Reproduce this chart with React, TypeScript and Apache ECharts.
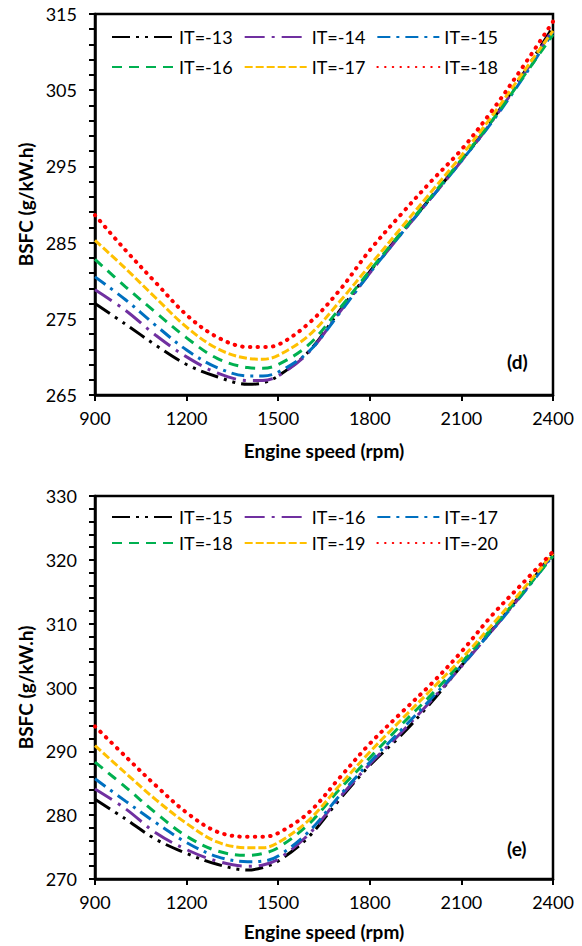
import React, { useEffect, useRef } from "react";
import * as echarts from "echarts";

const RPM = [900, 1000, 1100, 1200, 1300, 1400, 1450, 1500, 1600, 1700, 1800, 1900, 2000, 2100, 2200, 2300, 2400];
const X_TICKS = [900, 1200, 1500, 1800, 2100, 2400];

// Panel (d)
const D_NAMES = ["IT=-13", "IT=-14", "IT=-15", "IT=-16", "IT=-17", "IT=-18"];
const D_IT13 = [277.0, 274.3, 271.5, 269.0, 267.4, 266.4, 266.6, 267.5, 270.7, 276.0, 281.2, 286.1, 290.9, 295.8, 301.0, 307.0, 313.3];
const D_IT14 = [278.8, 276.1, 272.8, 270.0, 267.9, 266.9, 266.9, 267.5, 270.6, 275.8, 281.0, 286.0, 290.8, 295.7, 300.9, 306.8, 313.0];
const D_IT15 = [280.5, 277.5, 274.1, 270.9, 268.6, 267.5, 267.5, 268.0, 270.7, 275.7, 281.0, 286.0, 290.8, 295.7, 300.8, 306.5, 312.6];
const D_IT16 = [282.8, 279.2, 275.8, 272.5, 269.8, 268.6, 268.5, 269.0, 271.6, 276.3, 281.3, 286.2, 291.0, 295.9, 301.0, 306.6, 312.3];
const D_IT17 = [285.3, 281.6, 277.7, 273.9, 271.1, 269.8, 269.7, 270.2, 272.8, 277.2, 282.0, 286.8, 291.6, 296.4, 301.6, 307.2, 312.8];
const D_IT18 = [288.6, 284.0, 279.7, 275.5, 272.6, 271.3, 271.3, 271.6, 274.4, 278.7, 284.0, 288.6, 293.0, 297.2, 302.3, 308.0, 314.0];
const D_Y_TICKS = [265, 275, 285, 295, 305, 315];

// Panel (e)
const E_NAMES = ["IT=-15", "IT=-16", "IT=-17", "IT=-18", "IT=-19", "IT=-20"];
const E_IT15 = [282.5, 279.4, 276.2, 274.0, 272.3, 271.4, 271.8, 272.8, 276.6, 282.4, 287.8, 292.4, 297.6, 303.4, 309.0, 314.9, 321.1];
const E_IT16 = [284.1, 281.0, 277.2, 274.6, 272.8, 272.0, 272.2, 273.1, 277.0, 282.7, 288.0, 292.8, 297.9, 303.3, 308.9, 314.7, 320.9];
const E_IT17 = [285.7, 282.2, 278.8, 275.7, 273.5, 272.7, 272.8, 273.6, 277.4, 283.0, 288.3, 293.2, 298.2, 303.4, 308.9, 314.6, 320.7];
const E_IT18 = [288.3, 284.4, 280.3, 276.7, 274.4, 273.7, 274.0, 274.9, 278.6, 284.0, 289.0, 294.0, 298.8, 303.9, 309.3, 314.8, 320.6];
const E_IT19 = [290.9, 286.6, 282.4, 278.7, 275.8, 274.9, 274.9, 275.7, 279.2, 284.6, 289.9, 294.8, 299.6, 304.5, 309.8, 315.3, 321.0];
const E_IT20 = [293.9, 289.2, 284.6, 280.4, 277.4, 276.6, 276.6, 277.2, 280.4, 285.8, 291.2, 295.9, 300.5, 305.6, 311.3, 316.3, 321.3];
const E_Y_TICKS = [270, 280, 290, 300, 310, 320, 330];

const STYLES = [
  { color: "#000000", type: [18, 6, 3, 6, 3, 6], cap: "butt", width: 3 },
  { color: "#7030A0", type: [20, 7, 3, 7], cap: "butt", width: 3 },
  { color: "#0070C0", type: [13, 6, 3, 6], cap: "butt", width: 3 },
  { color: "#00B050", type: [10, 7], cap: "butt", width: 3 },
  { color: "#FFC000", type: [8, 3], cap: "butt", width: 3 },
  { color: "#FF0000", type: [0.5, 7.2], cap: "round", width: 4 },
];

const FONT = "Lato, 'Open Sans', sans-serif";

function buildOption(cfg: any) {
  const series = cfg.names.map((n: string, i: number) => ({
    name: n,
    type: "line",
    data: RPM.map((x, k) => [x, cfg.data[i][k]]),
    smooth: 0.35,
    symbol: "none",
    showSymbol: false,
    lineStyle: { color: STYLES[i].color, width: STYLES[i].width, type: STYLES[i].type, cap: STYLES[i].cap },
    itemStyle: { color: STYLES[i].color },
    z: 2 + i,
  }));
  const legendCommon = {
    left: 111,
    orient: "horizontal",
    itemWidth: 62,
    itemHeight: 18,
    itemGap: 11,
    padding: 0,
    itemStyle: { opacity: 0, borderWidth: 0 },
    textStyle: { fontSize: 18, color: "#000", fontFamily: FONT },
  };
  const yt = cfg.yTicks;
  return {
    animation: false,
    textStyle: { fontFamily: FONT },
    grid: {
      left: 95,
      width: 458,
      top: cfg.gridTop,
      height: cfg.gridHeight,
      show: true,
      borderColor: "#000",
      borderWidth: 2.5,
      backgroundColor: "transparent",
    },
    legend: [
      { ...legendCommon, top: cfg.legendTops[0], data: cfg.names.slice(0, 3) },
      { ...legendCommon, top: cfg.legendTops[1], data: cfg.names.slice(3, 6) },
    ],
    xAxis: {
      type: "value",
      min: X_TICKS[0],
      max: X_TICKS[X_TICKS.length - 1],
      interval: X_TICKS[1] - X_TICKS[0],
      name: "Engine speed (rpm)",
      nameLocation: "middle",
      nameGap: cfg.xNameGap,
      nameTextStyle: { fontSize: 19, fontWeight: "bold", color: "#000", fontFamily: FONT },
      axisLine: { lineStyle: { color: "#000", width: 2.5 } },
      axisTick: { show: true, inside: false, length: 6, lineStyle: { color: "#000", width: 2 } },
      axisLabel: { fontSize: 18, color: "#000", margin: 14, fontFamily: FONT, formatter: (v: number) => String(v) },
      splitLine: { show: false },
    },
    yAxis: {
      type: "value",
      min: yt[0],
      max: yt[yt.length - 1],
      interval: yt[1] - yt[0],
      name: "BSFC (g/kW.h)",
      nameLocation: "middle",
      nameGap: 56,
      nameTextStyle: { fontSize: 19, fontWeight: "bold", color: "#000", fontFamily: FONT },
      axisLine: { show: true, lineStyle: { color: "#000", width: 2.5 } },
      axisTick: { show: true, inside: false, length: 6, lineStyle: { color: "#000", width: 2 } },
      minorTick: { show: true, splitNumber: 5, length: 6, lineStyle: { color: "#000", width: 2 } },
      axisLabel: { fontSize: 18, color: "#000", margin: 18, fontFamily: FONT, formatter: (v: number) => String(v) },
      splitLine: { show: false },
      minorSplitLine: { show: false },
    },
    graphic: [
      {
        type: "text",
        left: 507,
        top: cfg.tagTop,
        style: { text: cfg.tag, font: `bold 19px ${FONT}`, fill: "#000" },
      },
    ],
    series,
  };
}

function Chart(props: { cfg: any; height: number }) {
  const ref = useRef<HTMLDivElement>(null);
  useEffect(() => {
    if (!ref.current) return;
    const chart = echarts.init(ref.current, undefined, { renderer: "svg" });
    chart.setOption(buildOption(props.cfg));
    return () => chart.dispose();
  }, []);
  return <div ref={ref} style={{ width: 582, height: props.height }} />;
}

export default function App() {
  const cfgD = {
    names: D_NAMES,
    data: [D_IT13, D_IT14, D_IT15, D_IT16, D_IT17, D_IT18],
    yTicks: D_Y_TICKS,
    gridTop: 14,
    gridHeight: 381,
    legendTops: [28, 58],
    xNameGap: 46,
    tag: "(d)",
    tagTop: 352,
  };
  const cfgE = {
    names: E_NAMES,
    data: [E_IT15, E_IT16, E_IT17, E_IT18, E_IT19, E_IT20],
    yTicks: E_Y_TICKS,
    gridTop: 23,
    gridHeight: 383,
    legendTops: [35, 61],
    xNameGap: 43,
    tag: "(e)",
    tagTop: 366,
  };
  return (
    <div style={{ position: "absolute", left: 0, top: 0, width: 582, height: 946, background: "#fff" }}>
      <Chart cfg={cfgD} height={473} />
      <Chart cfg={cfgE} height={473} />
    </div>
  );
}
